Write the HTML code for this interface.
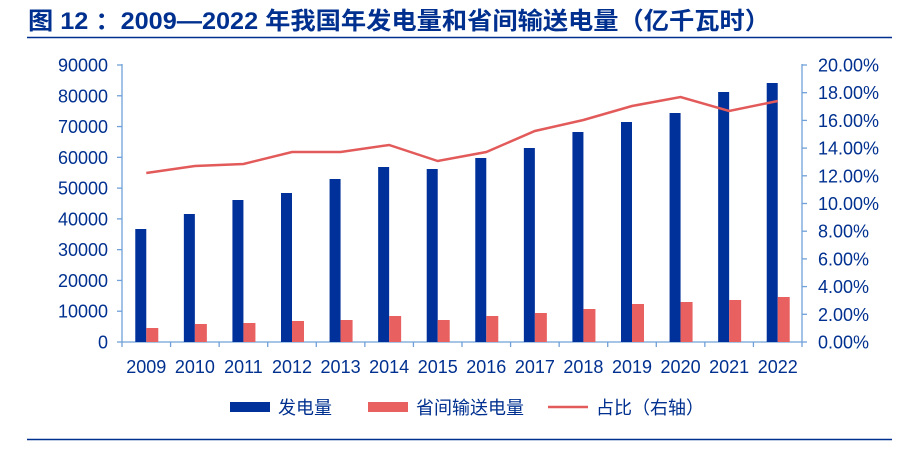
<!DOCTYPE html>
<html><head><meta charset="utf-8"><style>
body{margin:0;background:#fff;width:913px;height:446px;overflow:hidden}
</style></head><body>
<svg width="913" height="446" xmlns="http://www.w3.org/2000/svg" font-family="'Liberation Sans','Noto Sans CJK SC',sans-serif">
<text x="28" y="29" font-size="24" font-weight="bold" fill="#00308f" textLength="742" lengthAdjust="spacingAndGlyphs">图 12 ：2009—2022 年我国年发电量和省间输送电量（亿千瓦时）</text>
<line x1="27" y1="37.5" x2="892" y2="37.5" stroke="#00308f" stroke-width="1.5"/>
<line x1="27" y1="439.5" x2="892" y2="439.5" stroke="#00308f" stroke-width="1.5"/>
<g id="axes" stroke="#6fa0d8" stroke-width="1.3">
<line x1="122" y1="64" x2="122" y2="342"/>
<line x1="802" y1="64" x2="802" y2="342"/>
<line x1="122" y1="342" x2="802" y2="342"/>
</g>
<g id="bars"></g>
<g font-size="18" fill="#00308f" id="lab"></g>
<polyline id="ln" fill="none" stroke="#e35a5a" stroke-width="2.5"/>
<g font-size="18" fill="#00308f">
<rect x="230" y="402" width="40" height="10" fill="#00309a"/><text x="278" y="414">发电量</text>
<rect x="368" y="402" width="40" height="10" fill="#e86060"/><text x="416" y="414">省间输送电量</text>
<line x1="548" y1="407" x2="588" y2="407" stroke="#e35a5a" stroke-width="2.5"/><text x="596" y="414">占比（右轴）</text>
</g>
<script>
var ns="http://www.w3.org/2000/svg";
function el(t,a,p,txt){var e=document.createElementNS(ns,t);for(var k in a)e.setAttribute(k,a[k]);if(txt!=null)e.textContent=txt;document.getElementById(p).appendChild(e);return e;}
var y0=342,ytop=65,h=y0-ytop;
for(var i=0;i<=9;i++){var y=y0-h*i/9;
el("line",{x1:117,y1:y,x2:122,y2:y},"axes");
el("text",{x:108,y:y+6.5,"text-anchor":"end"},"lab",String(i*10000));
}
for(var i=0;i<=10;i++){var y=y0-h*i/10;
el("line",{x1:802,y1:y,x2:807,y2:y},"axes");
el("text",{x:818,y:y+6.5},"lab",(i*2).toFixed(2)+"%");}
var bt=[229,214,200,193,179,167,169,158,148,132,122,113,92,83];
var rt=[328,324,323,321,320,316,320,316,313,309,304,302,300,297];
var lt=[173,166,164,152,152,145,161,152,131,120,106,97,111,101];
var w=(802-122)/14,pts=[];
for(var i=0;i<14;i++){var c=122+w*(i+0.5);
el("line",{x1:122+w*i,y1:342,x2:122+w*i,y2:347},"axes");
el("rect",{x:c-11,y:bt[i],width:11,height:342-bt[i],fill:"#00309a"},"bars");
el("rect",{x:c,y:rt[i],width:12,height:342-rt[i],fill:"#e86060"},"bars");
el("text",{x:c,y:373,"text-anchor":"middle"},"lab",String(2009+i));
pts.push(c+","+lt[i]);}
el("line",{x1:802,y1:342,x2:802,y2:347},"axes");
document.getElementById("ln").setAttribute("points",pts.join(" "));
</script>
</svg>
</body></html>
